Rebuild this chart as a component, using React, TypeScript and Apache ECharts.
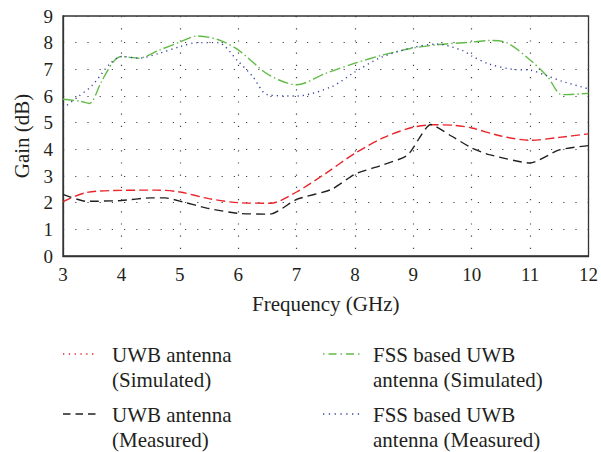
import React, { useEffect, useRef } from "react";
import * as echarts from "echarts";

// Frequency (GHz) samples and gain (dB) for each curve
const uwbSimFreq = [3, 3.4, 4, 4.6, 5, 5.5, 6, 6.55, 7, 7.5, 8, 8.5, 9, 9.35, 9.7, 10, 10.5, 11, 11.5, 12];
const uwbSimGain = [2.04, 2.38, 2.46, 2.47, 2.4, 2.15, 2.0, 1.98, 2.4, 3.1, 3.85, 4.45, 4.83, 4.92, 4.9, 4.8, 4.5, 4.34, 4.45, 4.58];

const uwbMeasFreq = [3, 3.4, 4, 4.5, 4.75, 5, 5.5, 6, 6.55, 7, 7.6, 8, 8.45, 8.9, 9.3, 9.65, 10, 10.3, 11, 11.5, 12];
const uwbMeasGain = [2.31, 2.05, 2.08, 2.18, 2.18, 2.06, 1.78, 1.6, 1.57, 2.12, 2.5, 3.07, 3.4, 3.78, 4.93, 4.5, 4.05, 3.8, 3.49, 3.98, 4.14];

const fssSimFreq = [3, 3.3, 3.45, 3.65, 3.85, 4, 4.3, 4.65, 5, 5.3, 5.65, 6, 6.45, 6.7, 7, 7.5, 8, 8.5, 9, 9.45, 10, 10.3, 10.6, 11, 11.3, 11.55, 12];
const fssSimGain = [5.88, 5.8, 5.72, 6.5, 7.25, 7.48, 7.42, 7.72, 8.02, 8.25, 8.12, 7.73, 6.9, 6.6, 6.42, 6.85, 7.23, 7.55, 7.8, 7.93, 8.02, 8.08, 8.0, 7.35, 6.72, 6.05, 6.1];

const fssMeasFreq = [3, 3.25, 3.5, 3.8, 4, 4.3, 4.65, 5, 5.3, 5.65, 6, 6.25, 6.5, 7, 7.6, 8, 8.45, 9, 9.4, 9.85, 10, 10.3, 10.7, 11, 11.3, 11.55, 12];
const fssMeasGain = [5.54, 5.96, 6.4, 7.2, 7.48, 7.42, 7.6, 7.85, 8.0, 8.0, 7.3, 6.73, 6.05, 6.0, 6.35, 6.9, 7.45, 7.82, 7.95, 7.7, 7.5, 7.2, 7.0, 6.97, 6.75, 6.55, 6.27];

const legendNames = [
  ["UWB antenna", "(Simulated)"],
  ["UWB antenna", "(Measured)"],
  ["FSS based UWB", "antenna (Simulated)"],
  ["FSS based UWB", "antenna (Measured)"],
];

const FONT = "'Liberation Serif', 'Times New Roman', serif";
const TEXT = "#231f20";
const RED = "#e8242a";
const BLACK = "#231f20";
const GREEN = "#62bb47";
const BLUE = "#35449f";

const pair = (xs: number[], ys: number[]) => xs.map((x, i) => [x, ys[i]]);

export default function App() {
  const ref = useRef<HTMLDivElement>(null);

  useEffect(() => {
    document.body.style.margin = "0";
    if (!ref.current) return;
    const chart = echarts.init(ref.current, undefined, { renderer: "svg" });

    // One legend entry: a short sample line followed by a two-line caption
    const legendItem = (
      x: number,
      y: number,
      lineLen: number,
      textX: number,
      lines: string[],
      color: string,
      dash: number[]
    ) => [
      {
        type: "line",
        shape: { x1: x, y1: y, x2: x + lineLen, y2: y },
        style: { stroke: color, lineWidth: 1.3, lineDash: dash },
      },
      {
        type: "text",
        x: textX,
        y: y - 12,
        style: {
          text: lines.join("\n"),
          font: `21px ${FONT}`,
          fill: TEXT,
          lineHeight: 25,
          verticalAlign: "top",
        },
      },
    ];

    const graphic = [
      ...legendItem(63, 354, 34, 112, legendNames[0], RED, [1.3, 4.5]),
      ...legendItem(63, 414, 34, 112, legendNames[1], BLACK, [7.5, 5]),
      ...legendItem(323, 354, 37, 373, legendNames[2], GREEN, [1.5, 4, 8, 4]),
      ...legendItem(323, 414, 37, 373, legendNames[3], BLUE, [1.3, 4.5]),
    ];

    const splitStyle = { color: "#444", width: 1.2, type: [1.2, 11] as any };

    chart.setOption({
      animation: false,
      grid: {
        left: 63,
        top: 16,
        right: 9,
        bottom: 196,
        show: true,
        borderColor: "#333",
        borderWidth: 1.3,
        backgroundColor: "transparent",
      },
      xAxis: {
        type: "value",
        min: 3,
        max: 12,
        interval: 1,
        name: "Frequency (GHz)",
        nameLocation: "middle",
        nameGap: 37,
        nameTextStyle: { fontFamily: FONT, fontSize: 21, color: TEXT },
        axisLine: { show: true, lineStyle: { color: "#333", width: 1.3 } },
        axisTick: { show: false },
        axisLabel: { fontFamily: FONT, fontSize: 19, color: TEXT, margin: 9 },
        splitLine: { show: true, lineStyle: splitStyle },
      },
      yAxis: {
        type: "value",
        min: 0,
        max: 9,
        interval: 1,
        name: "Gain (dB)",
        nameLocation: "middle",
        nameGap: 31,
        nameRotate: 90,
        nameTextStyle: { fontFamily: FONT, fontSize: 21, color: TEXT },
        axisLine: { show: true, lineStyle: { color: "#333", width: 1.3 } },
        axisTick: { show: false },
        axisLabel: { fontFamily: FONT, fontSize: 19, color: TEXT, margin: 10 },
        splitLine: { show: true, lineStyle: splitStyle },
      },
      series: [
        {
          name: "UWB antenna (Simulated)",
          type: "line",
          data: pair(uwbSimFreq, uwbSimGain),
          smooth: 0.3,
          symbol: "none",
          lineStyle: { color: RED, width: 1.4, type: [9, 4] },
        },
        {
          name: "UWB antenna (Measured)",
          type: "line",
          data: pair(uwbMeasFreq, uwbMeasGain),
          smooth: 0.2,
          symbol: "none",
          lineStyle: { color: BLACK, width: 1.4, type: [9, 5] },
        },
        {
          name: "FSS based UWB antenna (Simulated)",
          type: "line",
          data: pair(fssSimFreq, fssSimGain),
          smooth: 0.3,
          symbol: "none",
          lineStyle: { color: GREEN, width: 1.4, type: [11, 3, 1.5, 3] },
        },
        {
          name: "FSS based UWB antenna (Measured)",
          type: "line",
          data: pair(fssMeasFreq, fssMeasGain),
          smooth: 0.3,
          symbol: "none",
          lineStyle: { color: BLUE, width: 1.4, type: [1.2, 4] },
        },
      ],
      graphic,
    });

    return () => chart.dispose();
  }, []);

  return <div ref={ref} style={{ width: 601, height: 452 }} />;
}
